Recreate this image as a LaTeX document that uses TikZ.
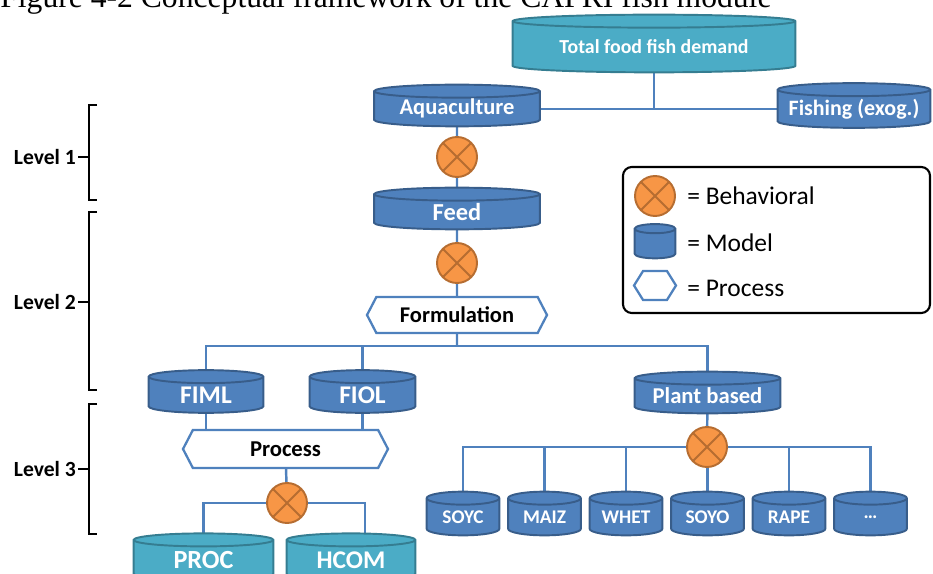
\documentclass[tikz,border=0pt]{standalone}
\usepackage{fontspec}
\setmainfont{Carlito}
\newfontfamily\titlefont{Liberation Serif}
\usetikzlibrary{shapes.symbols, calc, backgrounds}

\definecolor{cylblue}{HTML}{4F81BD}
\definecolor{cylrim}{HTML}{385D8A}
\definecolor{cylteal}{HTML}{4BACC6}
\definecolor{tealrim}{HTML}{357D91}
\definecolor{behavfill}{HTML}{F79646}
\definecolor{behavrim}{HTML}{B66D31}

\def\pu{0.02cm}
\newcommand\setfs[1]{\fontsize{#1}{#1}\selectfont}
% body of a cylinder round a node: #1 node, #2 style, #3 half height of the lid
\newcommand\cylbody[3]{%
	\path[#2] let \p1=(#1.north west), \p2=(#1.south east), \n1={(\x2-\x1)/2} in
		(\x1,\y1) -- (\x1,\y2+#3) arc[start angle=180, end angle=360, x radius=\n1, y radius=#3]
		-- (\x2,\y1) arc[start angle=0, end angle=180, x radius=\n1, y radius=#3] -- cycle
		(\x1,\y1) arc[start angle=180, end angle=360, x radius=\n1, y radius=#3];
}

\tikzset{
	link/.style={draw=cylblue, line width=1.4pt},
	model/.style={inner sep=0pt, text=white, font=\bfseries},
	bluebody/.style={fill=cylblue, draw=cylrim, line width=1.1pt},
	tealbody/.style={fill=cylteal, draw=tealrim, line width=1.1pt},
	process/.style={signal, signal to=west and east, signal pointer angle=125, draw=cylblue, fill=white, line width=1.3pt, inner sep=0pt, font=\bfseries},
	behavioral/.style={circle, minimum size=40*\pu, inner sep=0pt, fill=behavfill, draw=behavrim, line width=1.1pt,
		path picture={\draw[behavrim, line width=1.1pt] (path picture bounding box.north west) -- (path picture bounding box.south east)
			(path picture bounding box.north east) -- (path picture bounding box.south west);}},
	level/.style={anchor=east, inner sep=1pt, font=\bfseries\setfs{12.3}},
	bracket/.style={line width=1.3pt},
}

\begin{document}
\begin{tikzpicture}[x=0.02cm, y=-0.02cm]
	\useasboundingbox (0,0) rectangle (933,574);
	\node[anchor=base west, inner sep=0pt, font=\titlefont\setfs{18}] (title) at (0,8) {Figure 4-2 Conceptual framework of the CAPRI fish module};

	% level 1
	\node[model, minimum width=282*\pu, minimum height=50.5*\pu, font=\bfseries\setfs{11.3}] (total) at (654,46.75) {Total food fish demand};
	\node[model, minimum width=165*\pu, minimum height=34.5*\pu, font=\bfseries\setfs{12.8}] (aqua) at (457,108.75) {Aquaculture};
	\node[model, minimum width=152*\pu, minimum height=37.5*\pu, font=\bfseries\setfs{12.5}] (fish) at (854,108.75) {Fishing (exog.)};
	\node[behavioral] (b1) at (457,157) {};

	% level 2
	\node[model, minimum width=165*\pu, minimum height=34.5*\pu, font=\bfseries\setfs{13.9}] (feed) at (457,211.75) {Feed};
	\node[behavioral] (b2) at (457,263) {};
	\node[process, minimum width=180*\pu, minimum height=36*\pu, font=\bfseries\setfs{12.8}] (form) at (457,315) {Formulation};

	% level 3
	\node[model, minimum width=114*\pu, minimum height=35.5*\pu, font=\bfseries\setfs{14.5}] (fiml) at (206,394.75) {FIML};
	\node[model, minimum width=105*\pu, minimum height=35.5*\pu, font=\bfseries\setfs{14.5}] (fiol) at (362.5,394.75) {FIOL};
	\node[model, minimum width=145*\pu, minimum height=34.5*\pu, font=\bfseries\setfs{12.9}] (plant) at (707.5,395.75) {Plant based};
	\node[process, minimum width=205*\pu, minimum height=38*\pu, font=\bfseries\setfs{12.9}] (process) at (285.5,449) {Process};
	\node[behavioral] (b3) at (287,503) {};
	\node[model, minimum width=139*\pu, minimum height=39.5*\pu, font=\bfseries\setfs{14.9}] (proc) at (203.5,560) {PROC};
	\node[model, minimum width=128*\pu, minimum height=39.5*\pu, font=\bfseries\setfs{14.5}] (hcom) at (351,560) {HCOM};
	\node[behavioral] (b4) at (707,447) {};
	\foreach \nd/\lab [count=\i from 0] in {soyc/SOYC, maiz/MAIZ, whet/WHET, soyo/SOYO, rape/RAPE}
		\node[model, minimum width=72*\pu, minimum height=36.5*\pu, font=\bfseries\setfs{11}] (\nd) at (463+81.5*\i,516.75) {\lab};
	\node[model, minimum width=72*\pu, minimum height=36.5*\pu, font=\bfseries\setfs{11}] (more) at (870.5,516.75) {\ldots};

	% levels
	\node[level] (lv1) at (78,157) {Level 1};
	\node[level] (lv2) at (78,302) {Level 2};
	\node[level] (lv3) at (78,469) {Level 3};
	\draw[bracket] (97,105) -- (89,105) -- (89,200) -- (97,200);
	\draw[bracket] (97,212) -- (89,212) -- (89,390) -- (97,390);
	\draw[bracket] (97,404) -- (89,404) -- (89,534) -- (97,534);
	\draw[bracket] (lv1.east) -- (89,157);
	\draw[bracket] (lv2.east) -- (89,302);
	\draw[bracket] (lv3.east) -- (89,469);

	% legend
	\draw[line width=1.2pt, rounded corners=5pt] (623,167) rectangle (930,313);
	\node[behavioral] (legb) at (655,196) {};
	\node[model, minimum width=40*\pu, minimum height=29*\pu] (legm) at (655,243.5) {};
	\node[process, minimum width=42*\pu, minimum height=29*\pu, signal pointer angle=116] (legp) at (655,285.5) {};
	\node[anchor=west, inner sep=0pt, font=\setfs{14.5}] (legbt) at (687,196) {= Behavioral};
	\node[anchor=west, inner sep=0pt, font=\setfs{14.5}] (legmt) at (687,243) {= Model};
	\node[anchor=west, inner sep=0pt, font=\setfs{14.5}] (legpt) at (687,288) {= Process};

	\begin{scope}[on background layer]
		\draw[link] (total) -- (total |- aqua);
		\draw[link] (aqua) -- (fish);
		\draw[link] (aqua) -- (b1) -- (feed) -- (b2) -- (form);
		\coordinate (split) at (457,346);
		\draw[link] (form) -- (split);
		\draw[link] (fiml) |- (split) -| (plant);
		\draw[link] (fiol) -- (fiol |- split);
		\draw[link] (fiml) -- (fiml |- process);
		\draw[link] (fiol) -- (fiol |- process);
		\draw[link] (process) -- (b3);
		\draw[link] (proc) |- (b3) -| ([xshift=14*\pu]hcom.north);
		\draw[link] (plant) -- (b4);
		\foreach \nd in {soyc,maiz,whet,soyo,rape,more}
			\draw[link] (\nd) |- (b4);

		\foreach \nd in {aqua,fish,feed,fiml,fiol,plant,soyc,maiz,whet,soyo,rape,more}
			\cylbody{\nd}{bluebody}{3.7pt};
		\foreach \nd in {total,proc,hcom}
			\cylbody{\nd}{tealbody}{3.7pt};
		\cylbody{legm}{bluebody}{2.6pt};
	\end{scope}
\end{tikzpicture}
\end{document}
